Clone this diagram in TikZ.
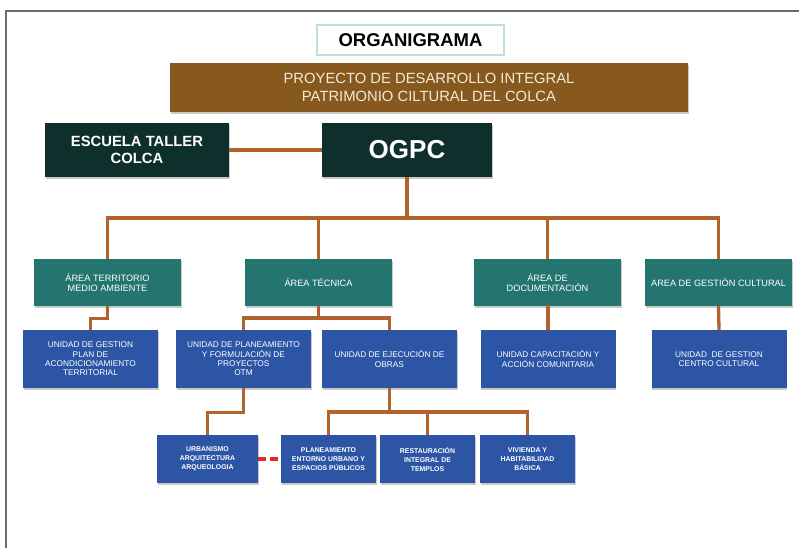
\documentclass[tikz,border=0pt]{standalone}
\usepackage{fontspec}
\setmainfont{Liberation Sans}
\usetikzlibrary{shadows}
\definecolor{framegray}{HTML}{6A6A6A}
\definecolor{titleedge}{HTML}{BFDDE3}
\definecolor{bannerbrown}{HTML}{87591F}
\definecolor{bannertext}{HTML}{F2EAD8}
\definecolor{darkteal}{HTML}{0E2F2C}
\definecolor{areateal}{HTML}{24756F}
\definecolor{unitblue}{HTML}{2D55A5}
\definecolor{connbrown}{HTML}{B3622B}
\definecolor{dashred}{HTML}{E8262A}
\tikzset{
  x=1pt, y=-1pt,
  boxshadow/.style={drop shadow={opacity=0.35, shadow xshift=0.8pt, shadow yshift=-1.6pt, fill=black!60}},
  titlebox/.style={draw=titleedge, line width=1.2pt, fill=white, inner sep=0pt,
    minimum width=187pt, minimum height=30pt, font=\fontsize{18.5}{20}\selectfont\bfseries, text=black},
  bannerbox/.style={fill=bannerbrown, boxshadow, inner sep=0pt, align=center,
    minimum width=518pt, minimum height=49pt, font=\fontsize{14.8}{17.5}\selectfont, text=bannertext},
  darkbox/.style={fill=darkteal, boxshadow, inner sep=0pt, align=center, text=white,
    minimum height=54pt},
  areabox/.style={fill=areateal, boxshadow, inner sep=0pt, align=center, text=white,
    minimum width=147pt, minimum height=47pt, font=\fontsize{9.2}{10.5}\selectfont},
  unitbox/.style={fill=unitblue, boxshadow, inner sep=0pt, align=center, text=white,
    minimum width=135pt, minimum height=58pt, font=\fontsize{8.3}{9.4}\selectfont},
  smallbox/.style={fill=unitblue, boxshadow, inner sep=0pt, align=center, text=white,
    minimum width=95pt, minimum height=48pt, font=\fontsize{6.9}{9}\selectfont\bfseries},
  conn/.style={draw=connbrown, line width=3.3pt},
  redlink/.style={draw=dashred, line width=3.2pt, dash pattern=on 8pt off 4pt}
}
\begin{document}
\begin{tikzpicture}
\useasboundingbox (0,0) rectangle (799,548);
\fill[white] (0,0) rectangle (799,548);
% frame
\draw[framegray, line width=2pt] (6,548) -- (6,11) -- (799,11);

% title and banner
\node[titlebox] (title) at (410.5,40) {ORGANIGRAMA};
\node[bannerbox] (banner) at (429,87.5) {PROYECTO DE DESARROLLO INTEGRAL\\PATRIMONIO CILTURAL DEL COLCA};

% top boxes
\node[darkbox, minimum width=184pt, font=\fontsize{14.8}{17}\selectfont\bfseries] (escuela) at (137,150) {ESCUELA TALLER\\COLCA};
\node[darkbox, minimum width=170pt, font=\fontsize{26}{28}\selectfont\bfseries] (ogpc) at (407,150) {OGPC};

% areas
\node[areabox] (a1) at (107.5,282.5) {ÁREA TERRITORIO\\MEDIO AMBIENTE};
\node[areabox] (a2) at (318.5,282.5) {ÁREA TÉCNICA};
\node[areabox] (a3) at (547.5,282.5) {ÁREA DE\\DOCUMENTACIÓN};
\node[areabox] (a4) at (718.5,282.5) {AREA DE GESTIÓN CULTURAL};

% units
\node[unitbox] (u1) at (90.5,359) {UNIDAD DE GESTION\\PLAN DE\\ACONDICIONAMIENTO\\TERRITORIAL};
\node[unitbox] (u2) at (243.5,359) {UNIDAD DE PLANEAMIENTO\\Y FORMULACIÓN DE\\PROYECTOS\\OTM};
\node[unitbox] (u3) at (389.5,359) {UNIDAD DE EJECUCIÓN DE\\OBRAS};
\node[unitbox] (u4) at (548,359) {UNIDAD CAPACITACIÓN Y\\ACCIÓN COMUNITARIA};
\node[unitbox] (u5) at (719,359) {UNIDAD \ DE GESTION\\CENTRO CULTURAL};

% bottom row
\node[smallbox, minimum width=101pt] (b1) at (207.5,459) {URBANISMO\\ARQUITECTURA\\ARQUEOLOGIA};
\node[smallbox] (b2) at (328.5,459) {PLANEAMIENTO\\ENTORNO URBANO Y\\ESPACIOS PÚBLICOS};
\node[smallbox] (b3) at (427.5,459) {RESTAURACIÓN\\INTEGRAL DE\\TEMPLOS};
\node[smallbox] (b4) at (527.5,459) {VIVIENDA Y\\HABITABILIDAD\\BÁSICA};

% connectors
\draw[conn] (escuela.east) -- (ogpc.west);
\coordinate (bus) at (407,218);
\draw[conn] (ogpc.south) -- (bus);
\draw[conn] (a1.north) -- (a1.north |- bus) -- (a4.north |- bus) -- (a4.north);
\draw[conn] (a2.north) -- (a2.north |- bus);
\draw[conn] (a3.north) -- (a3.north |- bus);

\draw[conn] (a1.south) -- ++(0,12) -| (u1.north);
\coordinate (j2) at (318.5,318);
\draw[conn] (a2.south) -- (j2);
\draw[conn] (u2.north) |- (u3.north |- j2) -- (u3.north);
\draw[conn] (a3.south) -- (a3.south -| u4.north) -- (u4.north);
\draw[conn] (a4.south) -- (u5.north);

\draw[conn] (u2.south) -- ++(0,24) -| (b1.north);
\coordinate (j3) at (389.5,412);
\draw[conn] (u3.south) -- (j3);
\draw[conn] (b2.north) |- (b4.north |- j3) -- (b4.north);
\draw[conn] (b3.north) -- (b3.north |- j3);

\draw[redlink] (b1.east) -- (b2.west);
\end{tikzpicture}
\end{document}
